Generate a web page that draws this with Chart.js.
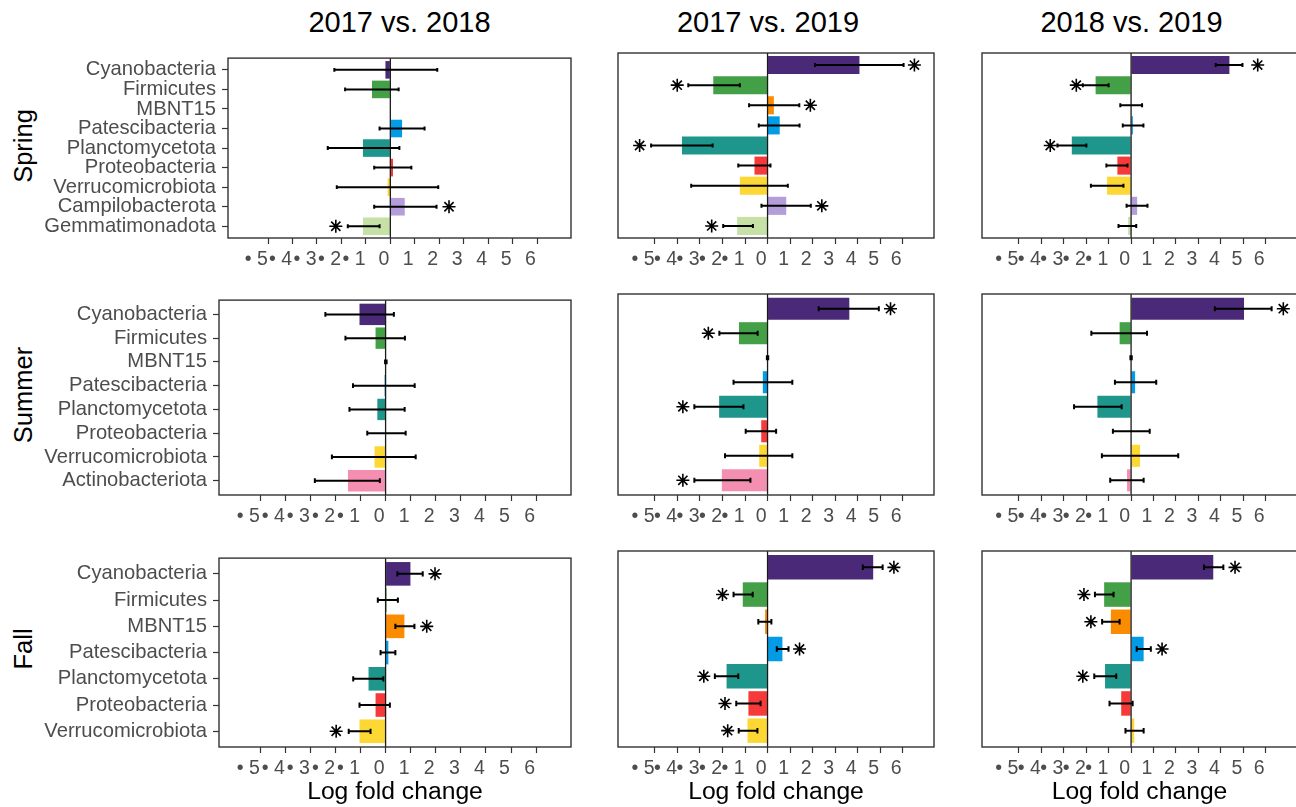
<!DOCTYPE html>
<html>
<head>
<meta charset="utf-8">
<script src="https://cdn.jsdelivr.net/npm/chart.js@4.4.1/dist/chart.umd.min.js"></script>
<style>
  html, body { margin: 0; padding: 0; background: #fff; width: 1296px; height: 807px; overflow: hidden; position: relative;
    font-family: "Liberation Sans", Arial, Helvetica, sans-serif; }
  canvas { position: absolute; }
  .colhead { position: absolute; top: 22px; font-size: 29px; line-height: 34px; color: #000; white-space: nowrap;
    transform: translate(-50%, -50%); }
  .rowhead { position: absolute; left: 23px; font-size: 25.5px; line-height: 29px; color: #000; white-space: nowrap;
    transform: translate(-50%, -50%) rotate(-90deg); }
</style>
</head>
<body>
<script>
// ---- comparisons (columns) and seasons (rows) ----
const comparisons = ['2017 vs. 2018', '2017 vs. 2019', '2018 vs. 2019'];
const seasons = ['Spring', 'Summer', 'Fall'];

// ---- taxa shown per season, top to bottom ----
const springTaxa = ['Cyanobacteria', 'Firmicutes', 'MBNT15', 'Patescibacteria', 'Planctomycetota',
  'Proteobacteria', 'Verrucomicrobiota', 'Campilobacterota', 'Gemmatimonadota'];
const summerTaxa = ['Cyanobacteria', 'Firmicutes', 'MBNT15', 'Patescibacteria', 'Planctomycetota',
  'Proteobacteria', 'Verrucomicrobiota', 'Actinobacteriota'];
const fallTaxa = ['Cyanobacteria', 'Firmicutes', 'MBNT15', 'Patescibacteria', 'Planctomycetota',
  'Proteobacteria', 'Verrucomicrobiota'];

// ---- log fold change, CI bounds and significance-marker positions, one inner array per comparison ----
const springLfc = [
  [-0.20, -0.75, null, 0.48, -1.12, 0.11, -0.11, 0.59, -1.12],
  [4.08, -2.41, 0.28, 0.54, -3.80, -0.58, -1.23, 0.83, -1.35],
  [4.38, -1.58, 0.00, 0.08, -2.64, -0.61, -1.07, 0.27, -0.13]
];
const springLo = [
  [-2.29, -1.85, null, -0.44, -2.56, -0.66, -2.19, -0.66, -1.74],
  [2.11, -3.52, -0.82, -0.39, -5.17, -1.30, -3.39, -0.27, -1.97],
  [3.77, -2.15, -0.48, -0.37, -3.28, -1.10, -1.79, -0.20, -0.56]
];
const springHi = [
  [1.92, 0.34, null, 1.40, 0.37, 0.86, 1.96, 1.89, -0.44],
  [6.04, -1.23, 1.41, 1.42, -2.44, 0.13, 0.90, 1.92, -0.65],
  [4.96, -1.00, 0.49, 0.55, -1.99, -0.16, -0.34, 0.73, 0.23]
];
const springSig = [
  [null, null, null, null, null, null, null, 2.40, -2.23],
  [6.52, -4.01, 1.90, null, -5.68, null, null, 2.41, -2.48],
  [5.64, -2.44, null, null, -3.60, null, null, null, null]
];

const summerLfc = [
  [-1.04, -0.40, 0.00, -0.04, -0.33, 0.00, -0.44, -1.50],
  [3.63, -1.27, 0.00, -0.21, -2.15, -0.28, -0.37, -2.03],
  [5.03, -0.51, 0.00, 0.18, -1.50, 0.00, 0.40, -0.18]
];
const summerLo = [
  [-2.40, -1.60, -0.02, -1.30, -1.44, -0.73, -2.14, -2.82],
  [2.27, -2.14, -0.03, -1.51, -3.25, -0.97, -1.89, -3.25],
  [3.73, -1.77, -0.03, -0.72, -2.54, -0.81, -1.30, -0.93]
];
const summerHi = [
  [0.33, 0.77, 0.04, 1.16, 0.76, 0.80, 1.20, -0.23],
  [4.94, -0.44, 0.03, 1.10, -1.07, 0.38, 1.10, -0.76],
  [6.26, 0.71, 0.03, 1.12, -0.42, 0.83, 2.10, 0.56]
];
const summerSig = [
  [null, null, null, null, null, null, null, null],
  [5.46, -2.63, null, null, -3.76, null, null, -3.76],
  [6.78, null, null, null, null, null, null, null]
];

const fallLfc = [
  [0.99, 0.04, 0.75, 0.11, -0.68, -0.40, -1.04],
  [4.69, -1.10, -0.11, 0.66, -1.82, -0.85, -0.89],
  [3.66, -1.20, -0.90, 0.56, -1.16, -0.44, 0.14]
];
const fallLo = [
  [0.47, -0.31, 0.39, -0.20, -1.29, -1.04, -1.47],
  [4.23, -1.51, -0.41, 0.41, -2.34, -1.39, -1.28],
  [3.25, -1.61, -1.29, 0.25, -1.64, -0.96, -0.25]
];
const fallHi = [
  [1.48, 0.49, 1.15, 0.39, -0.09, 0.17, -0.60],
  [5.11, -0.66, 0.17, 0.93, -1.30, -0.31, -0.45],
  [4.11, -0.78, -0.51, 0.88, -0.66, 0.07, 0.56]
];
const fallSig = [
  [1.97, null, 1.64, null, null, null, -1.97],
  [5.61, -2.00, null, 1.42, -2.83, -1.89, -1.77],
  [4.63, -2.10, -1.79, 1.38, -2.15, null, null]
];

// ---- shared x axis ----
const xMin = -6.64, xMax = 7.39;
const xTickValues = [-5, -4, -3, -2, -1, 0, 1, 2, 3, 4, 5, 6];
const xTickLabels = ['• 5  ', '• 4  ', '• 3  ', '• 2  ', '• 1  ', '0', '1', '2', '3', '4', '5', '6'];
const xTitle = 'Log fold change';

// ---- fill colour per phylum ----
const taxonColors = {
  Cyanobacteria: '#4A2A78', Firmicutes: '#43A047', MBNT15: '#FB8C00', Patescibacteria: '#039BE5',
  Planctomycetota: '#1F968B', Proteobacteria: '#F63A3A', Verrucomicrobiota: '#FDD835',
  Campilobacterota: '#B39DDB', Gemmatimonadota: '#C5E1A5', Actinobacteriota: '#F48FB1'
};

const seasonData = [
  { taxa: springTaxa, lfc: springLfc, lo: springLo, hi: springHi, sig: springSig },
  { taxa: summerTaxa, lfc: summerLfc, lo: summerLo, hi: summerHi, sig: summerSig },
  { taxa: fallTaxa, lfc: fallLfc, lo: fallLo, hi: fallHi, sig: fallSig }
];

// ---- page layout (pixels) ----
const rowBox = [
  { top: 53, bottom: 238, canvasTop: 40, canvasBottom: 282, leftFirst: 228 },
  { top: 294, bottom: 495, canvasTop: 282, canvasBottom: 540, leftFirst: 219 },
  { top: 551, bottom: 747, canvasTop: 540, canvasBottom: 807, leftFirst: 219 }
];
const colBox = [
  { left: null, right: 571, canvasLeft: 0, canvasRight: 586 },
  { left: 602, right: 934, canvasLeft: 586, canvasRight: 950 },
  { left: 966, right: 1297, canvasLeft: 950, canvasRight: 1310 }
];

const FONT = '"Liberation Sans", Arial, Helvetica, sans-serif';
Chart.defaults.font.family = FONT;
Chart.defaults.color = '#4D4D4D';

// Zero reference line, horizontal CI whiskers and the panel frame
const panelDecor = {
  id: 'panelDecor',
  afterDatasetsDraw(chart) {
    const { ctx, chartArea: a, scales: { x, y } } = chart;
    const ds = chart.data.datasets[0];
    ctx.save();
    const x0 = x.getPixelForValue(0);
    ctx.strokeStyle = '#1a1a1a';
    ctx.lineWidth = 1.3;
    ctx.beginPath();
    ctx.moveTo(x0, a.top);
    ctx.lineTo(x0, a.bottom);
    ctx.stroke();

    ctx.strokeStyle = '#000';
    ctx.lineWidth = 2;
    ds.errLo.forEach((lo, i) => {
      const hi = ds.errHi[i];
      if (lo === null || hi === null) return;
      const yc = y.getPixelForValue(i + 1);
      const yt = y.getPixelForValue(i + 1 - 0.1);
      const yb = y.getPixelForValue(i + 1 + 0.1);
      const xl = x.getPixelForValue(lo);
      const xr = x.getPixelForValue(hi);
      ctx.beginPath();
      ctx.moveTo(xl, yc); ctx.lineTo(xr, yc);
      ctx.moveTo(xl, yt); ctx.lineTo(xl, yb);
      ctx.moveTo(xr, yt); ctx.lineTo(xr, yb);
      ctx.stroke();
    });
    ctx.restore();
  },
  afterDraw(chart) {
    const { ctx, chartArea: a } = chart;
    ctx.save();
    ctx.strokeStyle = '#333';
    ctx.lineWidth = 1.4;
    ctx.strokeRect(a.left, a.top, a.right - a.left, a.bottom - a.top);
    ctx.restore();
  }
};

function addHead(cls, text, left, top) {
  const d = document.createElement('div');
  d.className = cls;
  d.textContent = text;
  d.style.left = left + 'px';
  d.style.top = top + 'px';
  document.body.appendChild(d);
}

// column headers and season labels
comparisons.forEach((t, c) => {
  const left = c === 0 ? rowBox[0].leftFirst : colBox[c].left;
  addHead('colhead', t, (left + colBox[c].right) / 2, 22);
});
seasons.forEach((s, r) => {
  const d = document.createElement('div');
  d.className = 'rowhead';
  d.textContent = s;
  d.style.top = ((rowBox[r].top + rowBox[r].bottom) / 2) + 'px';
  document.body.appendChild(d);
});

seasonData.forEach((sd, r) => {
  const rb = rowBox[r];
  const n = sd.taxa.length;
  comparisons.forEach((cmp, c) => {
    const cb = colBox[c];
    const pl = c === 0 ? rb.leftFirst : cb.left;
    const pr = cb.right;
    const w = cb.canvasRight - cb.canvasLeft;
    const h = rb.canvasBottom - rb.canvasTop;

    const canvas = document.createElement('canvas');
    canvas.width = w; canvas.height = h;
    canvas.style.left = cb.canvasLeft + 'px';
    canvas.style.top = rb.canvasTop + 'px';
    canvas.style.width = w + 'px';
    canvas.style.height = h + 'px';
    document.body.appendChild(canvas);

    const lfc = sd.lfc[c], lo = sd.lo[c], hi = sd.hi[c], sig = sd.sig[c];
    const isBottom = r === seasonData.length - 1;

    new Chart(canvas, {
      type: 'bar',
      data: {
        datasets: [
          {
            type: 'bar',
            data: sd.taxa.map((t, i) => ({ x: lfc[i], y: i + 1 })).filter(d => d.x !== null),
            backgroundColor: ctx => (ctx.raw ? taxonColors[sd.taxa[ctx.raw.y - 1]] : '#999'),
            borderWidth: 0,
            barPercentage: 0.9,
            categoryPercentage: 1,
            errLo: lo,
            errHi: hi,
            order: 2
          },
          {
            type: 'scatter',
            data: sig.map((s, i) => ({ x: s, y: i + 1 })).filter(d => d.x !== null),
            pointStyle: 'star',
            radius: 6.5,
            borderColor: '#000',
            backgroundColor: '#000',
            borderWidth: 1.6,
            order: 1
          }
        ]
      },
      options: {
        indexAxis: 'y',
        responsive: false,
        animation: false,
        devicePixelRatio: 1,
        events: [],
        layout: {
          padding: {
            top: rb.top - rb.canvasTop,
            right: cb.canvasRight - pr,
            left: c === 0 ? 0 : pl - cb.canvasLeft,
            bottom: 0
          }
        },
        plugins: { legend: { display: false }, tooltip: { enabled: false } },
        scales: {
          x: {
            type: 'linear',
            position: 'bottom',
            min: xMin,
            max: xMax,
            bounds: 'data',
            offset: false,
            afterBuildTicks: s => { s.ticks = xTickValues.map(v => ({ value: v })); },
            afterFit: s => { s.height = rb.canvasBottom - rb.bottom; },
            grid: { drawOnChartArea: false, drawTicks: true, tickLength: 6, tickColor: '#333', tickWidth: 1.2, offset: false },
            border: { display: false },
            ticks: {
              autoSkip: false, maxRotation: 0, minRotation: 0, padding: 4, labelOffset: -6.5,
              color: '#4D4D4D', font: { size: 19.5 },
              callback: v => xTickLabels[xTickValues.indexOf(v)]
            },
            title: {
              display: isBottom, text: xTitle, color: '#000',
              font: { size: 24.7 }, padding: { top: 0, bottom: 0 }
            }
          },
          y: {
            type: 'linear',
            position: 'left',
            display: c === 0,
            reverse: true,
            min: 0.4,
            max: n + 0.6,
            bounds: 'data',
            offset: false,
            afterBuildTicks: s => { s.ticks = sd.taxa.map((t, i) => ({ value: i + 1 })); },
            afterFit: s => { s.width = pl - cb.canvasLeft; },
            grid: { drawOnChartArea: false, drawTicks: true, tickLength: 6, tickColor: '#333', tickWidth: 1.2, offset: false },
            border: { display: false },
            ticks: {
              autoSkip: false, padding: 6, color: '#4D4D4D', font: { size: 20.2 },
              callback: v => sd.taxa[v - 1]
            }
          }
        }
      },
      plugins: [panelDecor]
    });
  });
});
</script>
</body>
</html>
